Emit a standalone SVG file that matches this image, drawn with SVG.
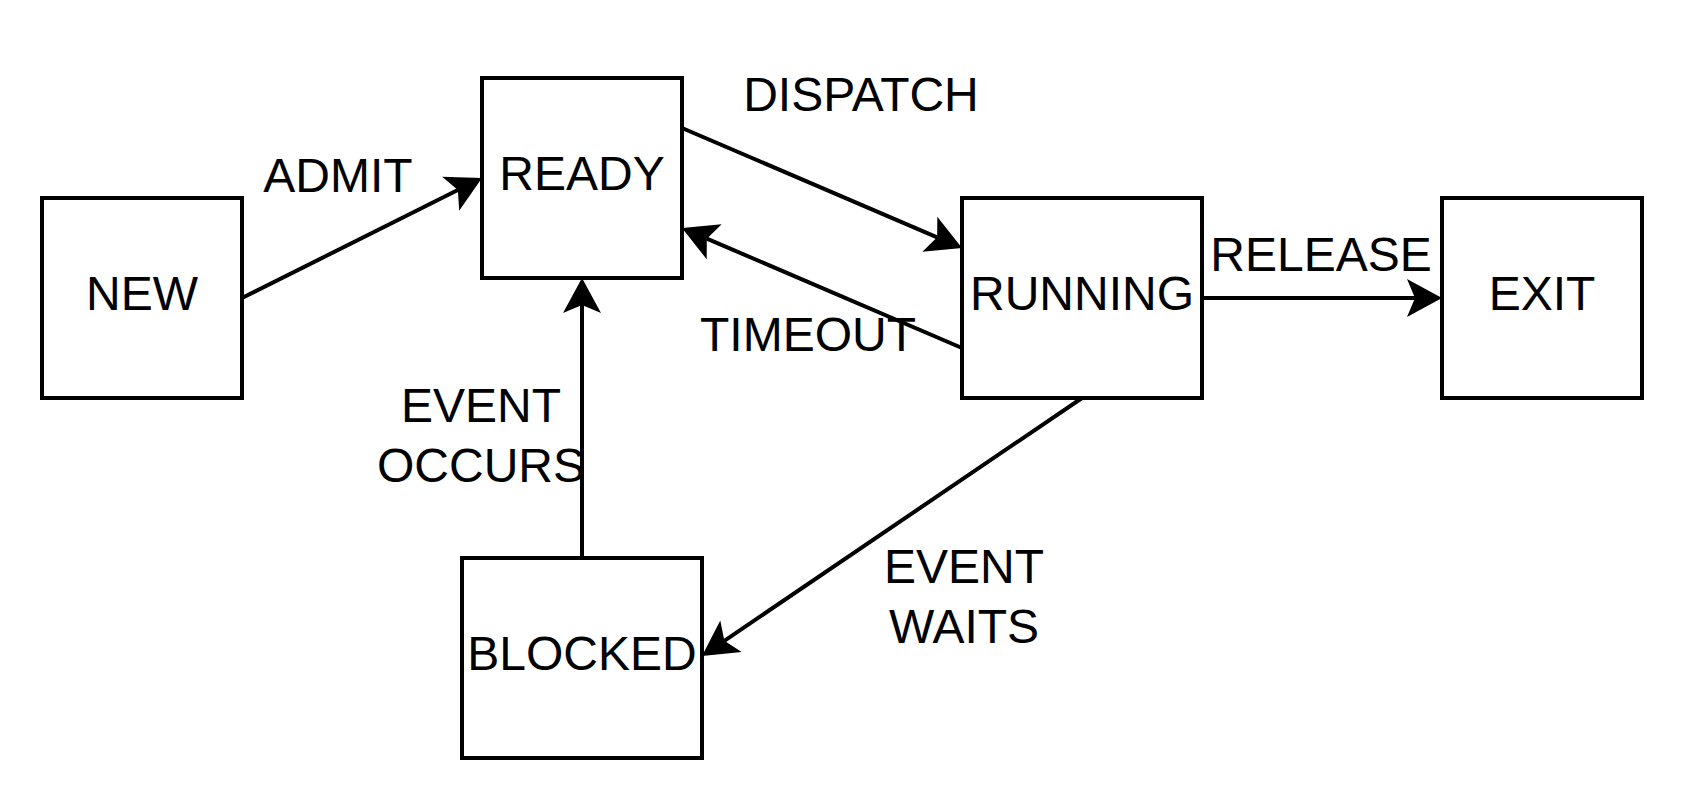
<svg xmlns="http://www.w3.org/2000/svg" width="1684" height="804" viewBox="0 0 1684 804">
  <style>
    .box { fill: #ffffff; stroke: #000000; stroke-width: 4; }
    .lbl { font-family: "Liberation Sans", Arial, Helvetica, sans-serif; font-size: 48px; fill: #000000; text-anchor: middle; }
    .edge { fill: none; stroke: #000000; stroke-width: 4; marker-end: url(#arrow); }
  </style>
  <defs>
    <marker id="arrow" markerUnits="userSpaceOnUse" viewBox="-10 -20 40 40" refX="0" refY="0" markerWidth="40" markerHeight="40" orient="auto" overflow="visible">
      <path d="M27,0 L-8,-19 L0,0 L-8,19 Z" fill="#000000" stroke="none"/>
    </marker>
  </defs>
  <rect width="1684" height="804" fill="#ffffff"/>

  <g id="connectors">
    <line class="edge" x1="242" y1="298" x2="457.85" y2="190.07"/>
    <line class="edge" x1="682" y1="128" x2="937.18" y2="237.36"/>
    <line class="edge" x1="962" y1="348" x2="706.82" y2="238.64"/>
    <line class="edge" x1="1202" y1="298" x2="1415" y2="298"/>
    <line class="edge" x1="582" y1="558" x2="582" y2="305"/>
    <line class="edge" x1="1082" y1="398" x2="724.34" y2="640.83"/>
  </g>

  <g id="node-new">
    <rect class="box" x="42" y="198" width="200" height="200"/>
    <text class="lbl" x="142" y="310">NEW</text>
  </g>
  <g id="node-ready">
    <rect class="box" x="482" y="78" width="200" height="200"/>
    <text class="lbl" x="582" y="190">READY</text>
  </g>
  <g id="node-running">
    <rect class="box" x="962" y="198" width="240" height="200"/>
    <text class="lbl" x="1082" y="310">RUNNING</text>
  </g>
  <g id="node-exit">
    <rect class="box" x="1442" y="198" width="200" height="200"/>
    <text class="lbl" x="1542" y="310">EXIT</text>
  </g>
  <g id="node-blocked">
    <rect class="box" x="462" y="558" width="240" height="200"/>
    <text class="lbl" x="582" y="670">BLOCKED</text>
  </g>

  <g id="edge-labels">
    <text class="lbl" x="338" y="192">ADMIT</text>
    <text class="lbl" x="861" y="111">DISPATCH</text>
    <text class="lbl" x="808" y="351">TIMEOUT</text>
    <text class="lbl" x="1321" y="271">RELEASE</text>
    <text class="lbl" x="481" y="422">EVENT</text>
    <text class="lbl" x="481" y="482">OCCURS</text>
    <text class="lbl" x="964" y="583">EVENT</text>
    <text class="lbl" x="964" y="643">WAITS</text>
  </g>
</svg>
